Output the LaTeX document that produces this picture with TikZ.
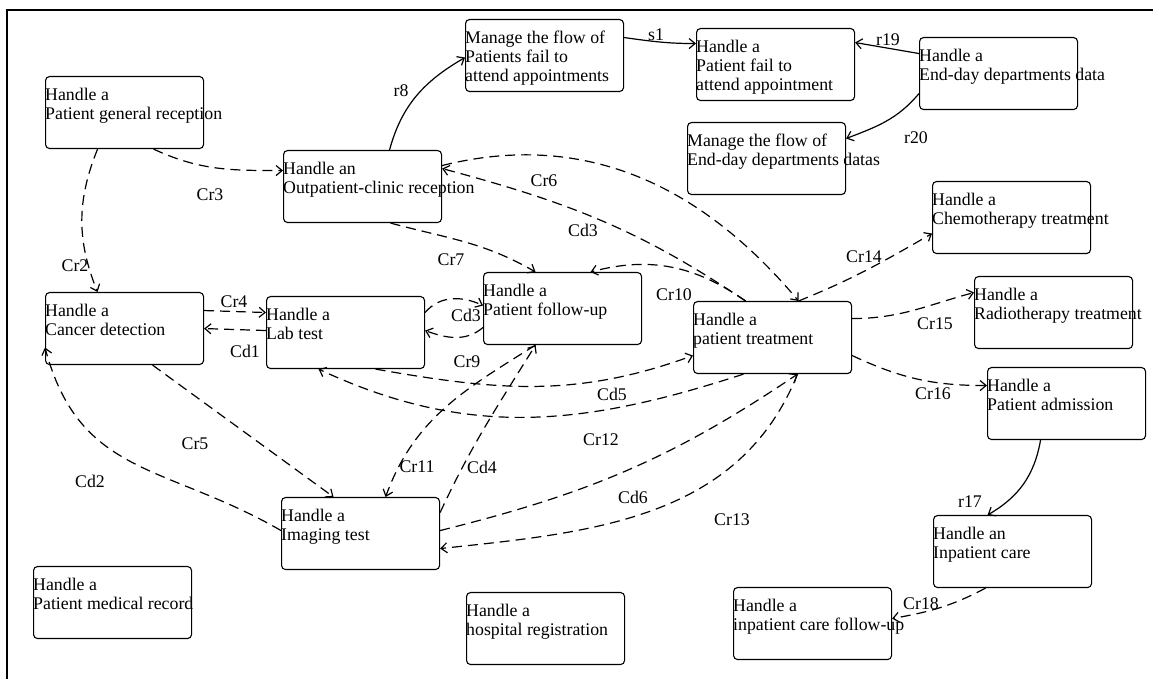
\documentclass[tikz,border=0pt]{standalone}
\usepackage{fontspec}
\setmainfont{Liberation Serif}
\usetikzlibrary{arrows.meta}
\tikzset{
  procbox/.style={draw, rounded corners=4pt, line width=1.1pt, minimum width=158pt,
    minimum height=72pt, anchor=north west, inner sep=0pt},
  proctext/.style={anchor=base west, inner sep=0pt, font=\fontsize{17.8}{19}\selectfont},
  lbl/.style={inner sep=0pt, font=\fontsize{17.8}{19}\selectfont},
  link/.style={line width=1.2pt, -{Straight Barb[length=6pt,width=10pt]}},
  dlink/.style={link, dash pattern=on 10pt off 6pt},
}
\newcommand{\procnode}[3]{%
  \node[procbox] (#1) at (#2) {};
  \node[proctext] (#1-t) at ([yshift=-25pt]#1.north west)
    {\begin{tabular}[t]{@{}l@{}}#3\end{tabular}};
}

\begin{document}
\begin{tikzpicture}[x=1pt, y=1pt]
  \useasboundingbox (0,0) rectangle (1153,679);
  \draw[line width=1.4pt] (7,-10) rectangle (1170,669);

  % processes
  \procnode{pgr}{45,603}{Handle a\\Patient general reception}
  \procnode{opc}{283,529}{Handle an\\Outpatient-clinic reception}
  \procnode{mfp}{465,660}{Manage the flow of\\Patients fail to\\attend appointments}
  \procnode{pfa}{696,651}{Handle a\\Patient fail to\\attend appointment}
  \procnode{edd}{919,642}{Handle a\\End-day departments data}
  \procnode{mfe}{687,557}{Manage the flow of\\End-day departments datas}
  \procnode{chemo}{932,498}{Handle a\\Chemotherapy treatment}
  \procnode{cancer}{45,387}{Handle a\\Cancer detection}
  \procnode{lab}{266,383}{Handle a\\Lab test}
  \procnode{img}{281,182}{Handle a\\Imaging test}
  \procnode{rec}{33,113}{Handle a\\Patient medical record}
  \procnode{fup}{483,407}{Handle a\\Patient follow-up}
  \procnode{trt}{693,378}{Handle a\\patient treatment}
  \procnode{radio}{974,403}{Handle a\\Radiotherapy treatment}
  \procnode{adm}{987,312}{Handle a\\Patient admission}
  \procnode{inp}{933,164}{Handle an\\Inpatient care}
  \procnode{ifu}{733,92}{Handle a\\inpatient care follow-up}
  \procnode{hosp}{466,87}{Handle a\\hospital registration}

  % relations
  \draw[dlink] ([xshift=-27pt]pgr.south) to[bend right=22] ([xshift=-27pt]cancer.north);
  \draw[dlink] ([xshift=29pt]pgr.south) to[out=-25,in=180] ([yshift=16pt]opc.west);
  \draw[link] ([xshift=27pt]opc.north) to[out=75,in=210] ([yshift=-2pt]mfp.west);
  \draw[link] ([yshift=18pt]mfp.east) to[out=-8,in=180] ([yshift=21pt]pfa.west);
  \draw[link] ([yshift=20pt]edd.west) -- ([yshift=22pt]pfa.east);
  \draw[link] ([yshift=-20pt]edd.west) to[out=230,in=21] ([yshift=20pt]mfe.east);
  \draw[dlink] ([yshift=21pt]opc.east) to[out=14,in=130] ([xshift=26pt]trt.north);
  \draw[dlink] ([xshift=-27pt]trt.north) to[out=146,in=-15] ([yshift=18pt]opc.east);
  \draw[dlink] ([xshift=28pt]opc.south) to[out=-15,in=150] ([xshift=-27pt]fup.north);
  \draw[dlink] ([xshift=-27pt]trt.north) to[out=145,in=15] ([xshift=28pt]fup.north);
  \draw[dlink] ([yshift=20pt]lab.east) to[out=50,in=155] ([yshift=3pt]fup.west);
  \draw[dlink] ([yshift=-19pt]fup.west) to[out=220,in=-20] ([yshift=2pt]lab.east);
  \draw[dlink] ([yshift=18pt]cancer.east) -- ([yshift=20pt]lab.west);
  \draw[dlink] ([yshift=2pt]lab.west) -- (cancer.east);
  \draw[dlink] ([xshift=28pt]cancer.south) -- ([xshift=-27pt]img.north);
  \draw[dlink] ([yshift=3pt]img.west) to[out=150,in=-75,looseness=1.15] ([yshift=-19pt]cancer.west);
  \draw[dlink] ([xshift=30pt]lab.south) to[out=-10,in=200] ([yshift=-18pt]trt.west);
  \draw[dlink] ([xshift=-29pt]trt.south) to[out=198,in=-25] ([xshift=-27pt]lab.south);
  \draw[dlink] ([xshift=-27pt]fup.south) to[out=212,in=70] ([xshift=25pt]img.north);
  \draw[dlink] ([yshift=21pt]img.east) to[out=65,in=238] ([xshift=-27pt]fup.south);
  \draw[dlink] ([yshift=3pt]img.east) to[out=14,in=214] ([xshift=25pt]trt.south);
  \draw[dlink] ([xshift=25pt]trt.south) to[out=248,in=6] ([yshift=-15pt]img.east);
  \draw[dlink] ([xshift=26pt]trt.north) to[out=22,in=210] ([yshift=-16pt]chemo.west);
  \draw[dlink] ([yshift=19pt]trt.east) to[out=0,in=195] ([yshift=20pt]radio.west);
  \draw[dlink] ([yshift=-18pt]trt.east) to[out=-25,in=180] ([yshift=18pt]adm.west);
  \draw[link] ([xshift=-26pt]adm.south) to[out=-100,in=30] ([xshift=-25pt]inp.north);
  \draw[dlink] ([xshift=-27pt]inp.south) to[out=208,in=10] ([yshift=5pt]ifu.east);

  % relation labels
  \node[lbl] (l-cr2) at (75,413) {Cr2};
  \node[lbl] (l-cr3) at (210,484) {Cr3};
  \node[lbl] (l-r8) at (401,588) {r8};
  \node[lbl] (l-s1) at (656,644) {s1};
  \node[lbl] (l-r19) at (888,639) {r19};
  \node[lbl] (l-r20) at (916,541) {r20};
  \node[lbl] (l-cr6) at (544,498) {Cr6};
  \node[lbl] (l-cd3a) at (583,449) {Cd3};
  \node[lbl] (l-cr7) at (451,419) {Cr7};
  \node[lbl] (l-cr10) at (674,384) {Cr10};
  \node[lbl] (l-cd3b) at (466,364) {Cd3};
  \node[lbl] (l-cr4) at (234,377) {Cr4};
  \node[lbl] (l-cd1) at (245,328) {Cd1};
  \node[lbl] (l-cr5) at (195,235) {Cr5};
  \node[lbl] (l-cd2) at (90,198) {Cd2};
  \node[lbl] (l-cr9) at (467,317) {Cr9};
  \node[lbl] (l-cd5) at (612,285) {Cd5};
  \node[lbl] (l-cr12) at (601,239) {Cr12};
  \node[lbl] (l-cr11) at (417,212) {Cr11};
  \node[lbl] (l-cd4) at (482,212) {Cd4};
  \node[lbl] (l-cd6) at (633,182) {Cd6};
  \node[lbl] (l-cr13) at (732,159) {Cr13};
  \node[lbl] (l-cr14) at (864,422) {Cr14};
  \node[lbl] (l-cr15) at (935,355) {Cr15};
  \node[lbl] (l-cr16) at (933,285) {Cr16};
  \node[lbl] (l-r17) at (970,177) {r17};
  \node[lbl] (l-cr18) at (921,75) {Cr18};
\end{tikzpicture}
\end{document}
